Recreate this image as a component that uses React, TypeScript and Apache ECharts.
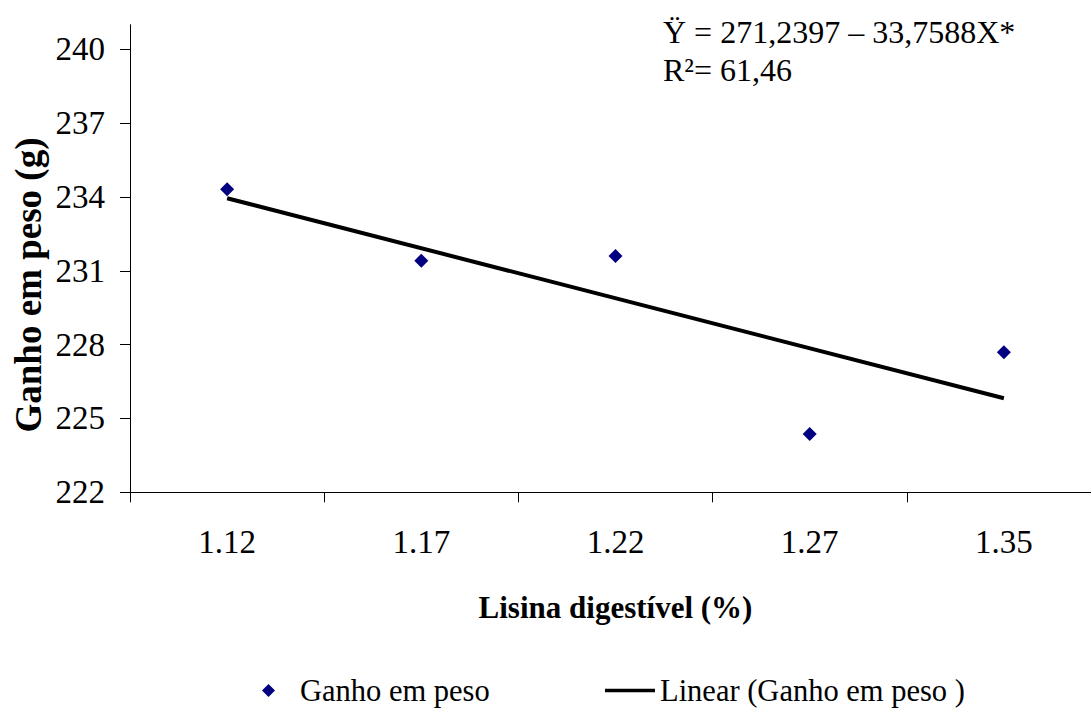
import React, { useEffect, useRef } from "react";
import * as echarts from "echarts";

const categories = ["1.12", "1.17", "1.22", "1.27", "1.35"];
const gainValues = [234.31, 231.41, 231.6, 224.37, 227.69];
const trendValues: (number | null)[] = [233.95, null, null, null, 225.82];
const yTicks = [222, 225, 228, 231, 234, 237, 240];

const FONT = "Liberation Serif";

export default function App() {
  const ref = useRef<HTMLDivElement>(null);
  useEffect(() => {
    if (!ref.current) return;
    const chart = echarts.init(ref.current, undefined, { renderer: "svg" });
    chart.setOption({
      animation: false,
      backgroundColor: "#ffffff",
      grid: { left: 130, right: 0, top: 24.7, bottom: 216.7, containLabel: false },
      xAxis: {
        type: "category",
        data: categories,
        boundaryGap: true,
        name: "Lisina digestível (%)",
        nameLocation: "middle",
        nameGap: 100,
        nameTextStyle: { fontFamily: FONT, fontSize: 31, fontWeight: "bold", color: "#000" },
        axisLine: { lineStyle: { color: "#000", width: 1 } },
        axisTick: { show: true, length: 10, inside: false, lineStyle: { color: "#000" } },
        axisLabel: { fontFamily: FONT, fontSize: 33, color: "#000", margin: 33 },
        splitLine: { show: false },
      },
      yAxis: {
        type: "value",
        min: 222,
        max: 241,
        interval: 1,
        axisLine: { show: true, lineStyle: { color: "#000", width: 1 } },
        axisTick: { show: true, length: 10, customValues: yTicks, lineStyle: { color: "#000" } },
        axisLabel: { fontFamily: FONT, fontSize: 33, color: "#000", margin: 25, customValues: yTicks },
        splitLine: { show: false },
      },
      legend: [
        {
          left: 262,
          top: 675,
          padding: 0,
          itemWidth: 13,
          itemHeight: 13,
          itemStyle: { borderWidth: 0, opacity: 1 },
          textStyle: { fontFamily: FONT, fontSize: 30.5, color: "#000", padding: [0, 0, 0, 20] },
          data: [{ name: "Ganho em peso", icon: "diamond" }],
        },
        {
          left: 605,
          top: 675,
          padding: 0,
          itemWidth: 50,
          itemHeight: 3.5,
          itemStyle: { borderWidth: 0 },
          textStyle: { fontFamily: FONT, fontSize: 30.5, color: "#000" },
          data: [{ name: "Linear (Ganho em peso )", icon: "rect" }],
        },
      ],
      graphic: [
        {
          type: "text",
          left: 663,
          top: 13,
          style: {
            text: "Ÿ = 271,2397 – 33,7588X*\nR²= 61,46",
            fontFamily: FONT,
            fontSize: 32,
            lineHeight: 38,
            fill: "#000",
          },
        },
        {
          type: "text",
          x: 28,
          y: 285,
          rotation: Math.PI / 2,
          style: {
            text: "Ganho em peso (g)",
            fontFamily: FONT,
            fontSize: 37,
            fontWeight: "bold",
            fill: "#000",
            align: "center",
            verticalAlign: "middle",
          },
        },
      ],
      series: [
        {
          name: "Ganho em peso",
          type: "scatter",
          data: gainValues,
          symbol: "diamond",
          symbolSize: 14,
          itemStyle: { color: "#000080", opacity: 1 },
          z: 3,
        },
        {
          name: "Linear (Ganho em peso )",
          type: "line",
          data: trendValues,
          connectNulls: true,
          showSymbol: false,
          symbol: "none",
          lineStyle: { color: "#000", width: 4 },
          itemStyle: { color: "#000" },
          z: 2,
        },
      ],
    });
    return () => chart.dispose();
  }, []);
  return (
    <div
      ref={ref}
      style={{ position: "fixed", left: 0, top: 0, width: 1101, height: 709, background: "#fff" }}
    />
  );
}
